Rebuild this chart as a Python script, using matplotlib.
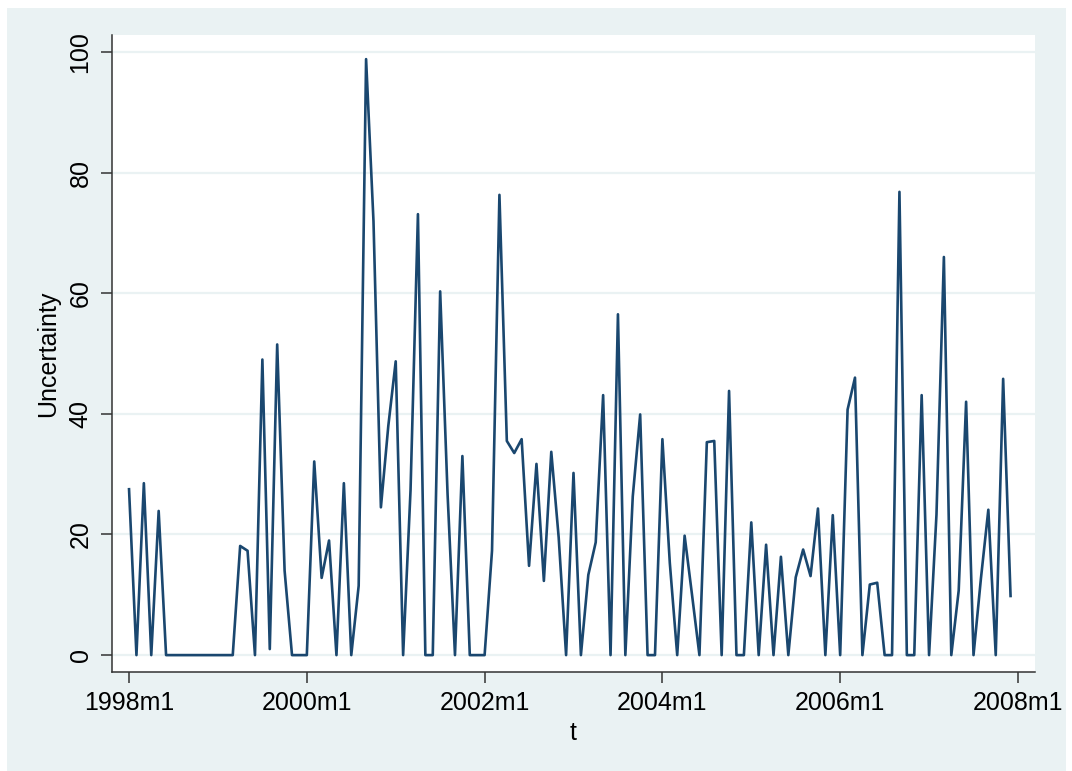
from matplotlib import pyplot as plt
from matplotlib.patches import Rectangle
import numpy as np

# monthly series, 1998m1 .. 2007m12 (index 0 = 1998m1)
uncertainty = [
    27.5, 0, 28.5, 0, 23.9, 0, 0, 0, 0, 0, 0, 0,
    0, 0, 0, 18.1, 17.3, 0, 49.0, 1.0, 51.5, 14.0, 0, 0,
    0, 32.1, 12.8, 19.0, 0, 28.5, 0, 11.5, 98.8, 71.9, 24.5, 38.0,
    48.7, 0, 27.3, 73.1, 0, 0, 60.3, 26.7, 0, 33.0, 0, 0,
    0, 17.3, 76.3, 35.5, 33.5, 35.8, 14.8, 31.7, 12.3, 33.7, 19.5, 0,
    30.2, 0, 13.3, 18.7, 43.1, 0, 56.5, 0, 26.3, 39.9, 0, 0,
    35.8, 15.3, 0, 19.8, 10.0, 0, 35.3, 35.5, 0, 43.8, 0, 0,
    22.0, 0, 18.3, 0, 16.3, 0, 12.9, 17.5, 13.1, 24.3, 0, 23.2,
    0, 40.7, 46.0, 0, 11.7, 12.0, 0, 0, 76.8, 0, 0, 43.1,
    0, 23.3, 66.0, 0, 10.7, 42.0, 0, 12.7, 24.1, 0, 45.8, 9.8,
]
months = np.arange(len(uncertainty))

xtick_pos = [0, 24, 48, 72, 96, 120]
xtick_labels = ["1998m1", "2000m1", "2002m1", "2004m1", "2006m1", "2008m1"]
ytick_pos = [0, 20, 40, 60, 80, 100]

bg = "#EAF2F3"
navy = "#1A476F"

plt.rcParams["font.family"] = ["Liberation Sans", "DejaVu Sans"]

fig = plt.figure(figsize=(10.72, 7.71), dpi=100, facecolor="white")
# outer graph region (light blue-grey), drawn behind the axes
fig.add_artist(Rectangle((7 / 1072, 0), 1059 / 1072, 763 / 771,
                         transform=fig.transFigure, facecolor=bg,
                         edgecolor="none", zorder=-10))

ax = fig.add_axes([112 / 1072, 99 / 771, 923 / 1072, 637 / 771])
ax.set_zorder(1)
ax.set_facecolor("white")

ax.plot(months, uncertainty, color=navy, linewidth=1.9)

ax.set_xlim(-2.3, 122.3)
ax.set_ylim(-2.8, 102.8)

ax.set_xticks(xtick_pos)
ax.set_xticklabels(xtick_labels, fontsize=18)
ax.set_yticks(ytick_pos)
ax.set_yticklabels([str(v) for v in ytick_pos], fontsize=18,
                   rotation=90, va="center")

ax.yaxis.grid(True, color=bg, linewidth=1.6)
ax.set_axisbelow(True)

for s in ["top", "right"]:
    ax.spines[s].set_visible(False)
for s in ["left", "bottom"]:
    ax.spines[s].set_color("#333333")
    ax.spines[s].set_linewidth(1.1)

ax.tick_params(axis="both", length=8, width=1.1, color="#333333", pad=6)

ax.set_xlabel("t", fontsize=18, labelpad=4)
ax.set_ylabel("Uncertainty", fontsize=18, labelpad=6)

plt.savefig("out.png", dpi=100, facecolor=fig.get_facecolor())
